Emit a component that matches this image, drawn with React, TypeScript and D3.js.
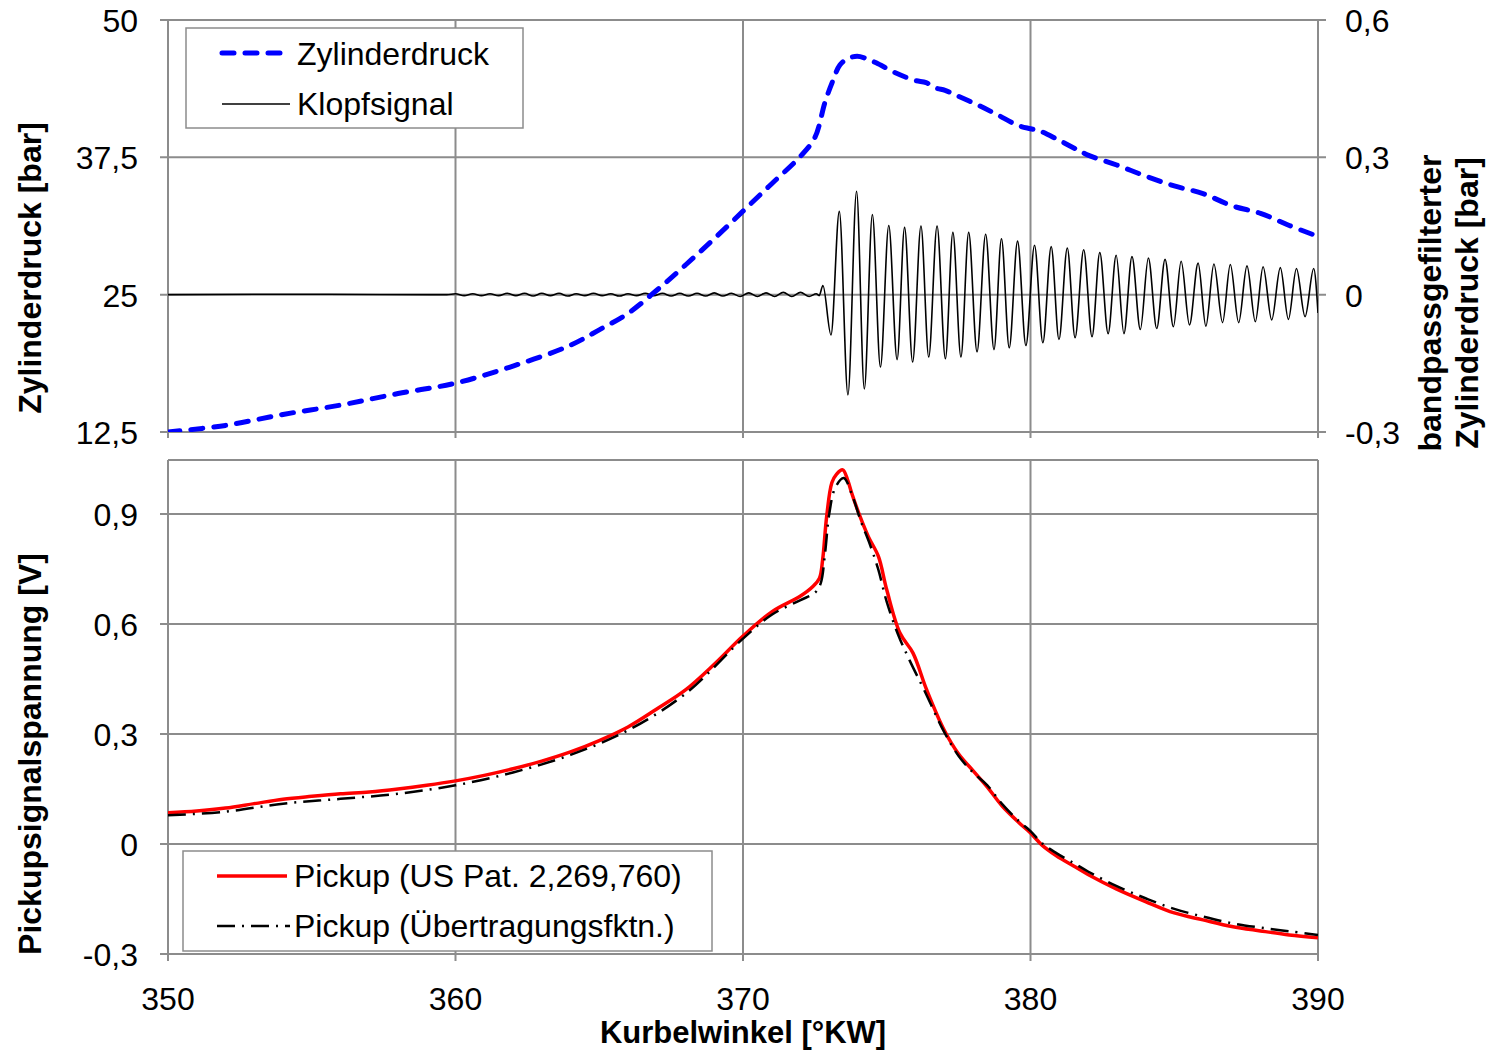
import * as d3 from "d3";

// Kurbelwinkel [°KW] on both panels
const xTicks = [350, 360, 370, 380, 390];

// top panel axes
const druckTicks = [12.5, 25, 37.5, 50];
const druckTickLabels = ["12,5", "25", "37,5", "50"];
const klopfTicks = [-0.3, 0, 0.3, 0.6];
const klopfTickLabels = ["-0,3", "0", "0,3", "0,6"];

// bottom panel axis
const pickupTicks = [-0.3, 0, 0.3, 0.6, 0.9];
const pickupTickLabels = ["-0,3", "0", "0,3", "0,6", "0,9"];

// Zylinderdruck [bar]
const zylinderdruck: [number, number][] = [
  [350, 12.5], [352, 13.1], [354, 14.1], [356, 14.95], [358, 16.0], [360, 16.95],
  [362, 18.5], [364, 20.4], [365, 21.8], [366, 23.3], [367, 25.4], [368, 27.7],
  [369, 30.1], [370, 32.6], [371, 35.1], [372, 37.6], [372.5, 39.3], [372.85, 42.5],
  [373.1, 44.3], [373.37, 45.9], [373.65, 46.5], [373.97, 46.7], [374.28, 46.5],
  [374.63, 46.1], [375.3, 45.2], [375.98, 44.5], [376.37, 44.3], [376.71, 43.8],
  [377.03, 43.6], [377.37, 43.2], [378.14, 42.3], [378.83, 41.4], [379.57, 40.4],
  [380.0, 40.1], [380.33, 39.9], [380.96, 39.1], [381.62, 38.2], [382, 37.7],
  [383, 36.8], [384, 35.8], [385, 34.9], [386, 34.2], [387, 33.1], [388, 32.4],
  [389, 31.3], [390, 30.3],
];

// Klopfsignal [bar], ripple before the knock
const klopfVorlauf: [number, number][] = [
  [350, 0], [355, 0.001], [359.7, 0],
  [360.0, 0.002], [360.3, -0.002], [360.6, 0.002], [360.9, -0.002], [361.2, 0.002],
  [361.5, -0.002], [361.8, 0.003], [362.1, -0.002], [362.4, 0.003], [362.7, -0.003],
  [363.0, 0.003], [363.3, -0.002], [363.6, 0.003], [363.9, -0.003], [364.2, 0.002],
  [364.5, -0.002], [364.8, 0.003], [365.1, -0.002], [365.4, 0.002], [365.7, -0.003],
  [366.0, 0.002], [366.3, -0.002], [366.6, 0.003], [366.9, -0.002], [367.2, 0.003],
  [367.5, -0.003], [367.8, 0.003], [368.1, -0.003], [368.4, 0.003], [368.7, -0.003],
  [369.0, 0.004], [369.3, -0.003], [369.6, 0.003], [369.9, -0.004], [370.2, 0.004],
  [370.5, -0.004], [370.8, 0.004], [371.1, -0.004], [371.4, 0.005], [371.7, -0.004],
  [372.0, 0.005], [372.3, -0.004], [372.55, 0.002], [372.65, -0.002],
];

// Klopfsignal [bar], peaks and troughs of the knock oscillation
const klopfSchwingung: [number, number][] = [
  [372.78, 0.02], [373.06, -0.088], [373.35, 0.182], [373.65, -0.219], [373.95, 0.226],
  [374.22, -0.206], [374.5, 0.175], [374.78, -0.158], [375.07, 0.151], [375.36, -0.142],
  [375.62, 0.147], [375.9, -0.147], [376.19, 0.15], [376.46, -0.136], [376.75, 0.15],
  [377.04, -0.14], [377.3, 0.136], [377.58, -0.136], [377.85, 0.136], [378.14, -0.125],
  [378.44, 0.132], [378.73, -0.12], [378.99, 0.122], [379.26, -0.116], [379.55, 0.117],
  [379.84, -0.111], [380.14, 0.108], [380.43, -0.105], [380.72, 0.105], [380.99, -0.098],
  [381.28, 0.102], [381.55, -0.094], [381.85, 0.098], [382.14, -0.092], [382.41, 0.092],
  [382.7, -0.085], [382.98, 0.086], [383.25, -0.085], [383.53, 0.083], [383.82, -0.076],
  [384.1, 0.08], [384.39, -0.074], [384.68, 0.077], [384.97, -0.07], [385.24, 0.073],
  [385.53, -0.066], [385.83, 0.069], [386.1, -0.069], [386.38, 0.067], [386.68, -0.061],
  [386.95, 0.066], [387.24, -0.061], [387.53, 0.063], [387.82, -0.059], [388.09, 0.061],
  [388.39, -0.055], [388.69, 0.059], [388.97, -0.054], [389.25, 0.057], [389.55, -0.048],
  [389.85, 0.057], [390, -0.04],
];

// Pickup (US Pat. 2,269,760) [V]
const pickupPatent: [number, number][] = [
  [350, 0.085], [351, 0.09], [352, 0.098], [353, 0.11], [354, 0.122], [355, 0.13],
  [356, 0.137], [357, 0.142], [358, 0.15], [359, 0.16], [360, 0.172], [361, 0.187],
  [362, 0.205], [363, 0.226], [364, 0.251], [365, 0.282], [366, 0.319], [367, 0.368],
  [368, 0.42], [369, 0.49], [370, 0.567], [371, 0.633], [372, 0.676], [372.43, 0.702],
  [372.66, 0.725], [372.77, 0.775], [372.91, 0.893], [373.09, 0.985], [373.25, 1.008],
  [373.47, 1.02], [373.65, 0.99], [373.78, 0.957], [374.07, 0.893], [374.36, 0.838],
  [374.71, 0.784], [375.0, 0.693], [375.46, 0.575], [375.91, 0.521], [376.39, 0.42],
  [377, 0.31], [377.5, 0.245], [378, 0.2], [378.5, 0.155], [379, 0.105], [379.6, 0.058],
  [380, 0.03], [380.4, -0.003], [380.9, -0.032], [381.5, -0.06], [382, -0.083],
  [383, -0.123], [384, -0.157], [385, -0.188], [386, -0.207], [387, -0.225],
  [388, -0.237], [389, -0.248], [390, -0.256],
];

// Pickup (Übertragungsfktn.) [V]
const pickupUebertragung: [number, number][] = [
  [350, 0.078], [352, 0.088], [354, 0.11], [356, 0.123], [358, 0.137], [360, 0.16],
  [362, 0.195], [364, 0.243], [366, 0.31], [368, 0.41], [370, 0.56], [371, 0.625],
  [372, 0.665], [372.5, 0.685], [372.7, 0.71], [372.85, 0.79], [373.0, 0.9],
  [373.2, 0.97], [373.5, 0.998], [373.8, 0.95], [374.1, 0.88], [374.4, 0.82],
  [374.7, 0.75], [375.0, 0.66], [375.4, 0.57], [375.8, 0.5], [376.3, 0.42],
  [377, 0.305], [377.5, 0.24], [378, 0.195], [378.5, 0.16], [379, 0.11], [379.6, 0.062],
  [380, 0.035], [380.4, 0.002], [380.9, -0.025], [381.5, -0.052], [382, -0.075],
  [383, -0.115], [384, -0.148], [385, -0.177], [386, -0.198], [387, -0.216],
  [388, -0.228], [389, -0.238], [390, -0.248],
];

const W = 1486;
const H = 1050;
const left = 168;
const right = 1318;
const top1 = 20;
const bottom1 = 432;
const top2 = 460;
const bottom2 = 954;

const font = "'Liberation Sans', Arial, sans-serif";
const grid = "#8c8c8c";
const fs = 32;

const App = () => {
  const x = d3.scaleLinear().domain([350, 390]).range([left, right]);
  const yDruck = d3.scaleLinear().domain([12.5, 50]).range([bottom1, top1]);
  const yKlopf = d3.scaleLinear().domain([-0.3, 0.6]).range([bottom1, top1]);
  const yPickup = d3.scaleLinear().domain([-0.3, 1.047]).range([bottom2, top2]);

  const druckLine = d3
    .line<[number, number]>()
    .x((d) => x(d[0]))
    .y((d) => yDruck(d[1]))
    .curve(d3.curveCatmullRom.alpha(0.5));

  const klopfLine = d3
    .line<[number, number]>()
    .x((d) => x(d[0]))
    .y((d) => yKlopf(d[1]))
    .curve(d3.curveMonotoneX);

  const pickupLine = d3
    .line<[number, number]>()
    .x((d) => x(d[0]))
    .y((d) => yPickup(d[1]))
    .curve(d3.curveCatmullRom.alpha(0.5));

  const klopf = [...klopfVorlauf, ...klopfSchwingung];

  return (
    <>
      <style>{`body{margin:0}`}</style>
      <svg width={W} height={H} style={{ display: "block", fontFamily: font }}>
        <defs>
          <clipPath id="clipTop">
            <rect x={left} y={top1} width={right - left} height={bottom1 - top1} />
          </clipPath>
          <clipPath id="clipBottom">
            <rect x={left} y={top2} width={right - left} height={bottom2 - top2} />
          </clipPath>
        </defs>
        <rect width={W} height={H} fill="#fff" />

        {/* ---------- top panel ---------- */}
        <g stroke={grid} strokeWidth={2}>
          {druckTicks.map((t) => (
            <line key={"gh" + t} x1={left - 8} x2={right + 8} y1={yDruck(t)} y2={yDruck(t)} />
          ))}
          {xTicks.map((t) => (
            <line key={"gv" + t} x1={x(t)} x2={x(t)} y1={top1} y2={bottom1 + 6} />
          ))}
        </g>
        <g fill="#000" fontSize={fs}>
          {druckTicks.map((t, i) => (
            <text key={"dl" + t} x={138} y={yDruck(t) + 12} textAnchor="end">
              {druckTickLabels[i]}
            </text>
          ))}
          {klopfTicks.map((t, i) => (
            <text key={"kl" + t} x={1345} y={yKlopf(t) + 12} textAnchor="start">
              {klopfTickLabels[i]}
            </text>
          ))}
        </g>
        <g clipPath="url(#clipTop)" fill="none">
          <path d={klopfLine(klopf) ?? ""} stroke="#000" strokeWidth={1.6} />
          <path
            d={druckLine(zylinderdruck) ?? ""}
            stroke="#0000ff"
            strokeWidth={5}
            strokeDasharray="12 11"
            strokeLinecap="round"
          />
        </g>

        {/* legend top */}
        <g>
          <rect x={186} y={28} width={337} height={100} fill="#fff" stroke={grid} strokeWidth={1.5} />
          <line x1={222} x2={283} y1={53} y2={53} stroke="#0000ff" strokeWidth={5} strokeDasharray="12 11" strokeLinecap="round" />
          <text x={297} y={65} fontSize={fs}>Zylinderdruck</text>
          <line x1={222} x2={290} y1={104} y2={104} stroke="#000" strokeWidth={1.6} />
          <text x={297} y={115} fontSize={fs}>Klopfsignal</text>
        </g>

        {/* ---------- bottom panel ---------- */}
        <g stroke={grid} strokeWidth={2}>
          {pickupTicks.map((t) => (
            <line key={"ph" + t} x1={left - 8} x2={right} y1={yPickup(t)} y2={yPickup(t)} />
          ))}
          {xTicks.map((t) => (
            <line key={"pv" + t} x1={x(t)} x2={x(t)} y1={top2} y2={bottom2 + 7} />
          ))}
          <line x1={left} x2={right} y1={top2} y2={top2} />
        </g>
        <g fill="#000" fontSize={fs}>
          {pickupTicks.map((t, i) => (
            <text key={"pl" + t} x={138} y={yPickup(t) + 12} textAnchor="end">
              {pickupTickLabels[i]}
            </text>
          ))}
          {xTicks.map((t) => (
            <text key={"xl" + t} x={x(t)} y={1010} textAnchor="middle">
              {t}
            </text>
          ))}
        </g>
        <g clipPath="url(#clipBottom)" fill="none">
          <path d={pickupLine(pickupPatent) ?? ""} stroke="#ff0000" strokeWidth={3.5} />
          <path
            d={pickupLine(pickupUebertragung) ?? ""}
            stroke="#000"
            strokeWidth={2.5}
            strokeDasharray="18 7 2 7"
          />
        </g>

        {/* legend bottom */}
        <g>
          <rect x={183} y={851} width={529} height={100} fill="#fff" stroke={grid} strokeWidth={1.5} />
          <line x1={217} x2={287} y1={876} y2={876} stroke="#ff0000" strokeWidth={3.5} />
          <text x={294} y={887} fontSize={fs}>Pickup (US Pat. 2,269,760)</text>
          <line x1={217} x2={290} y1={926} y2={926} stroke="#000" strokeWidth={2.5} strokeDasharray="18 7 2 7" />
          <text x={294} y={937} fontSize={fs}>Pickup (Übertragungsfktn.)</text>
        </g>

        {/* axis titles */}
        <g fontSize={fs} fontWeight="bold" fill="#000">
          <text transform="translate(41,268) rotate(-90)" textAnchor="middle">
            Zylinderdruck [bar]
          </text>
          <text transform="translate(41,754) rotate(-90)" textAnchor="middle">
            Pickupsignalspannung [V]
          </text>
          <text transform="translate(1441,303) rotate(-90)" textAnchor="middle">
            <tspan x={0} y={0}>bandpassgefilterter</tspan>
            <tspan x={0} y={37}>Zylinderdruck [bar]</tspan>
          </text>
          <text x={x(370)} y={1043} textAnchor="middle" fontSize={31}>
            Kurbelwinkel [°KW]
          </text>
        </g>
      </svg>
    </>
  );
};

export default App;
